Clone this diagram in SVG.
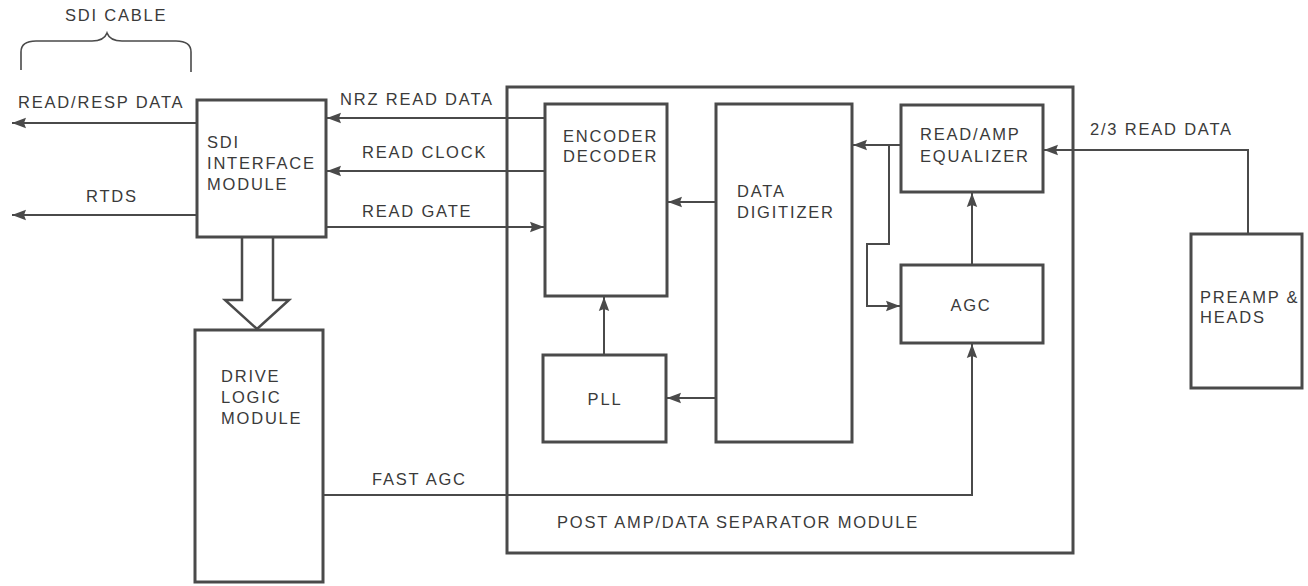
<svg xmlns="http://www.w3.org/2000/svg" width="1308" height="586" viewBox="0 0 1308 586">
<defs>
<style>
.box{fill:none;stroke:#4a4a4a;stroke-width:3}
.ln{fill:none;stroke:#4a4a4a;stroke-width:2}
.t{font-family:"Liberation Sans",Arial,sans-serif;font-size:16.5px;letter-spacing:1.8px;fill:#3a3a3a}
.tc{text-anchor:middle}
</style>
<marker id="ah" markerUnits="userSpaceOnUse" markerWidth="16" markerHeight="12" refX="14" refY="6" orient="auto">
<path d="M0,0.8 L14,6 L0,11.2 L2,6 Z" fill="#4a4a4a"/>
</marker>
</defs>
<rect width="1308" height="586" fill="#fff"/>

<g id="sdi-cable">
<path class="ln" style="stroke-width:1.6" d="M21,70 L21,52 Q21,41 36,41 L92,41 Q104,41 107,33 Q110,41 122,41 L176,41 Q191,41 191,52 L191,72"/>
<text class="t" x="65" y="21">SDI CABLE</text>
</g>

<g id="post-amp">
<rect class="box" x="507" y="87" width="566" height="466"/>
<text class="t" x="557" y="528">POST AMP/DATA SEPARATOR MODULE</text>
</g>

<g id="sdi-interface">
<rect class="box" x="197" y="100" width="129" height="137"/>
<text class="t" x="207" y="148">SDI</text>
<text class="t" x="207" y="169">INTERFACE</text>
<text class="t" x="207" y="190">MODULE</text>
</g>

<g id="drive-logic">
<rect class="box" x="195" y="330" width="128" height="252"/>
<text class="t" x="221" y="382">DRIVE</text>
<text class="t" x="221" y="403">LOGIC</text>
<text class="t" x="221" y="424">MODULE</text>
</g>

<g id="encoder-decoder">
<rect class="box" x="545" y="104" width="122" height="192"/>
<text class="t" x="563" y="142">ENCODER</text>
<text class="t" x="563" y="162">DECODER</text>
</g>

<g id="data-digitizer">
<rect class="box" x="716" y="104" width="136" height="338"/>
<text class="t" x="737" y="197">DATA</text>
<text class="t" x="737" y="218">DIGITIZER</text>
</g>

<g id="pll">
<rect class="box" x="543" y="355" width="123" height="87"/>
<text class="t tc" x="605" y="405">PLL</text>
</g>

<g id="read-amp-equalizer">
<rect class="box" x="901" y="105" width="142" height="87"/>
<text class="t" x="920" y="140">READ/AMP</text>
<text class="t" x="920" y="162">EQUALIZER</text>
</g>

<g id="agc">
<rect class="box" x="901" y="265" width="142" height="78"/>
<text class="t tc" x="971" y="311">AGC</text>
</g>

<g id="preamp-heads">
<rect class="box" x="1191" y="234" width="111" height="154"/>
<text class="t" x="1200" y="303">PREAMP &amp;</text>
<text class="t" x="1200" y="323">HEADS</text>
</g>

<g id="connectors">
<path class="ln" d="M197,123 L12,123" marker-end="url(#ah)"/>
<path class="ln" d="M197,215 L12,215" marker-end="url(#ah)"/>
<path class="ln" d="M545,118 L327,118" marker-end="url(#ah)"/>
<path class="ln" d="M545,171 L327,171" marker-end="url(#ah)"/>
<path class="ln" d="M326,227 L544,227" marker-end="url(#ah)"/>
<path class="ln" d="M716,202 L668,202" marker-end="url(#ah)"/>
<path class="ln" d="M604,355 L604,297" marker-end="url(#ah)"/>
<path class="ln" d="M716,398 L667,398" marker-end="url(#ah)"/>
<path class="ln" d="M901,145 L853,145" marker-end="url(#ah)"/>
<path class="ln" d="M889,145 L889,244 L867,244 L867,306 L900,306" marker-end="url(#ah)"/>
<path class="ln" d="M972,265 L972,193" marker-end="url(#ah)"/>
<path class="ln" d="M1248,234 L1248,150 L1044,150" marker-end="url(#ah)"/>
<path class="ln" d="M323,495 L972,495 L972,344" marker-end="url(#ah)"/>
<path class="ln" style="stroke-width:2.5" d="M242,237 L242,300 L225,300 L257,329 L289,300 L273,300 L273,237"/>
<text class="t" x="18" y="108">READ/RESP DATA</text>
<text class="t" x="86" y="202">RTDS</text>
<text class="t" x="340" y="105">NRZ READ DATA</text>
<text class="t" x="362" y="158">READ CLOCK</text>
<text class="t" x="362" y="217">READ GATE</text>
<text class="t" x="1090" y="135">2/3 READ DATA</text>
<text class="t" x="372" y="485">FAST AGC</text>
</g>
</svg>
